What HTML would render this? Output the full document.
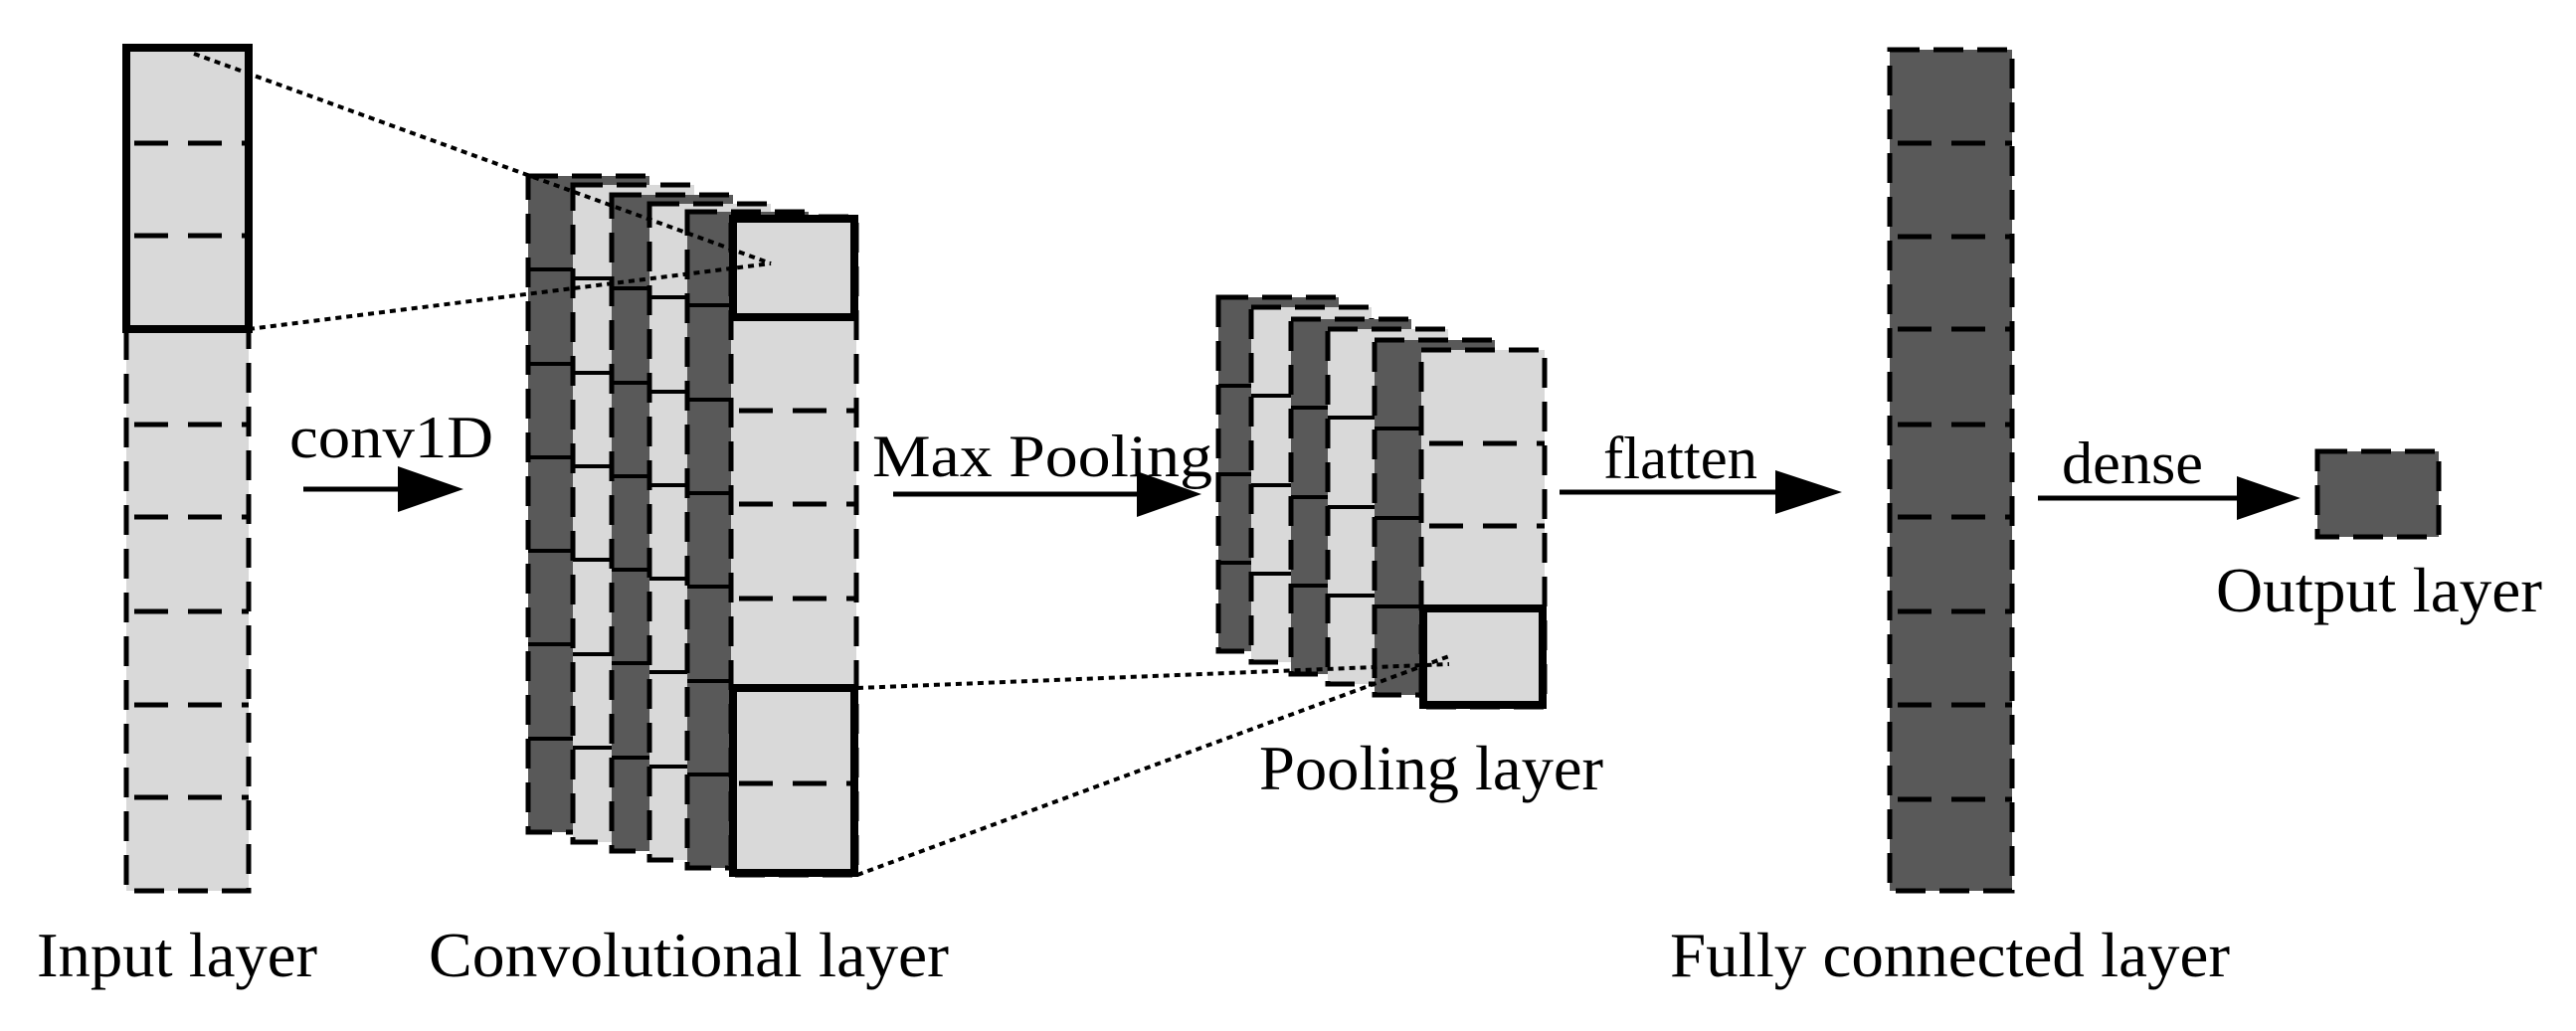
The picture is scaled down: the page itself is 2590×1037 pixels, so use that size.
<!DOCTYPE html>
<html><head><meta charset="utf-8"><style>
html,body{margin:0;padding:0;background:#fff;}
svg{display:block;}
text{font-family:"Liberation Serif",serif;fill:#000;}
</style></head><body>
<svg width="2590" height="1037" viewBox="0 0 2590 1037" xmlns="http://www.w3.org/2000/svg">
<defs>
<marker id="ah" markerWidth="10" markerHeight="10" refX="0" refY="0"/>
</defs>
<g stroke="#000" stroke-width="5" stroke-dasharray="30 14">
<!-- Input layer -->
<rect x="127" y="48" width="123" height="848" fill="#d9d9d9"/>
</g>
<g stroke="#000" stroke-width="5" stroke-dasharray="34 20" stroke-dashoffset="-8">
<line x1="127" y1="144" x2="250" y2="144"/><line x1="127" y1="237" x2="250" y2="237"/>
<line x1="127" y1="427" x2="250" y2="427"/><line x1="127" y1="520" x2="250" y2="520"/>
<line x1="127" y1="615" x2="250" y2="615"/><line x1="127" y1="709" x2="250" y2="709"/>
<line x1="127" y1="802" x2="250" y2="802"/>
</g>
<rect x="127" y="48" width="123" height="283" fill="none" stroke="#000" stroke-width="8"/>

<!-- Conv sheets -->
<g stroke="#000" stroke-width="5">
<rect x="531" y="177" width="122" height="660" fill="#595959" stroke-dasharray="30 14"/>
<g stroke-width="4"><line x1="531" y1="271" x2="653" y2="271"/><line x1="531" y1="366" x2="653" y2="366"/><line x1="531" y1="460" x2="653" y2="460"/><line x1="531" y1="554" x2="653" y2="554"/><line x1="531" y1="648" x2="653" y2="648"/><line x1="531" y1="743" x2="653" y2="743"/></g>
<rect x="576" y="186" width="122" height="661" fill="#d9d9d9" stroke-dasharray="30 14"/>
<g stroke-width="4"><line x1="576" y1="280" x2="698" y2="280"/><line x1="576" y1="375" x2="698" y2="375"/><line x1="576" y1="469" x2="698" y2="469"/><line x1="576" y1="563" x2="698" y2="563"/><line x1="576" y1="658" x2="698" y2="658"/><line x1="576" y1="752" x2="698" y2="752"/></g>
<rect x="615" y="196" width="122" height="660" fill="#595959" stroke-dasharray="30 14"/>
<g stroke-width="4"><line x1="615" y1="290" x2="737" y2="290"/><line x1="615" y1="385" x2="737" y2="385"/><line x1="615" y1="479" x2="737" y2="479"/><line x1="615" y1="573" x2="737" y2="573"/><line x1="615" y1="667" x2="737" y2="667"/><line x1="615" y1="762" x2="737" y2="762"/></g>
<rect x="653" y="205" width="122" height="660" fill="#d9d9d9" stroke-dasharray="30 14"/>
<g stroke-width="4"><line x1="653" y1="299" x2="775" y2="299"/><line x1="653" y1="394" x2="775" y2="394"/><line x1="653" y1="488" x2="775" y2="488"/><line x1="653" y1="582" x2="775" y2="582"/><line x1="653" y1="676" x2="775" y2="676"/><line x1="653" y1="771" x2="775" y2="771"/></g>
<rect x="691" y="213" width="122" height="660" fill="#595959" stroke-dasharray="30 14"/>
<g stroke-width="4"><line x1="691" y1="307" x2="813" y2="307"/><line x1="691" y1="402" x2="813" y2="402"/><line x1="691" y1="496" x2="813" y2="496"/><line x1="691" y1="590" x2="813" y2="590"/><line x1="691" y1="685" x2="813" y2="685"/><line x1="691" y1="779" x2="813" y2="779"/></g>
<rect x="735" y="218" width="126" height="662" fill="#d9d9d9" stroke-dasharray="30 14"/>
</g>
<g stroke="#000" stroke-width="5" stroke-dasharray="34 20" stroke-dashoffset="-8">
<line x1="735" y1="413" x2="861" y2="413"/><line x1="735" y1="507" x2="861" y2="507"/>
<line x1="735" y1="602" x2="861" y2="602"/><line x1="735" y1="788" x2="861" y2="788"/>
</g>
<rect x="737" y="220" width="122" height="99" fill="none" stroke="#000" stroke-width="8"/>
<rect x="737" y="692" width="122" height="186" fill="none" stroke="#000" stroke-width="8"/>

<!-- Pooling sheets -->
<g stroke="#000" stroke-width="5">
<rect x="1225" y="299" width="121" height="356" fill="#595959" stroke-dasharray="30 14"/>
<g stroke-width="4"><line x1="1225" y1="388" x2="1346" y2="388"/><line x1="1225" y1="477" x2="1346" y2="477"/><line x1="1225" y1="566" x2="1346" y2="566"/></g>
<rect x="1258" y="309" width="121" height="357" fill="#d9d9d9" stroke-dasharray="30 14"/>
<g stroke-width="4"><line x1="1258" y1="398" x2="1379" y2="398"/><line x1="1258" y1="488" x2="1379" y2="488"/><line x1="1258" y1="577" x2="1379" y2="577"/></g>
<rect x="1298" y="321" width="121" height="357" fill="#595959" stroke-dasharray="30 14"/>
<g stroke-width="4"><line x1="1298" y1="410" x2="1419" y2="410"/><line x1="1298" y1="500" x2="1419" y2="500"/><line x1="1298" y1="589" x2="1419" y2="589"/></g>
<rect x="1335" y="331" width="121" height="357" fill="#d9d9d9" stroke-dasharray="30 14"/>
<g stroke-width="4"><line x1="1335" y1="420" x2="1456" y2="420"/><line x1="1335" y1="510" x2="1456" y2="510"/><line x1="1335" y1="599" x2="1456" y2="599"/></g>
<rect x="1382" y="342" width="121" height="357" fill="#595959" stroke-dasharray="30 14"/>
<g stroke-width="4"><line x1="1382" y1="431" x2="1503" y2="431"/><line x1="1382" y1="521" x2="1503" y2="521"/><line x1="1382" y1="610" x2="1503" y2="610"/></g>
<rect x="1429" y="352" width="124" height="359" fill="#d9d9d9" stroke-dasharray="30 14"/>
</g>
<g stroke="#000" stroke-width="5" stroke-dasharray="34 20" stroke-dashoffset="-8">
<line x1="1429" y1="446" x2="1553" y2="446"/><line x1="1429" y1="529" x2="1553" y2="529"/>
</g>
<rect x="1431" y="612" width="120" height="97" fill="none" stroke="#000" stroke-width="8"/>

<!-- dotted connectors -->
<g stroke="#000" stroke-width="4" stroke-dasharray="6 5" fill="none">
<line x1="195" y1="54" x2="775" y2="265"/>
<line x1="250" y1="331" x2="775" y2="265"/>
<line x1="862" y1="692" x2="1457" y2="668"/>
<line x1="862" y1="880" x2="1457" y2="660"/>
</g>

<!-- FC layer -->
<rect x="1900" y="50" width="123" height="846" fill="#595959" stroke="#000" stroke-width="5" stroke-dasharray="30 14"/>
<g stroke="#000" stroke-width="5" stroke-dasharray="34 20" stroke-dashoffset="-8">
<line x1="1900" y1="144" x2="2023" y2="144"/><line x1="1900" y1="238" x2="2023" y2="238"/>
<line x1="1900" y1="331" x2="2023" y2="331"/><line x1="1900" y1="427" x2="2023" y2="427"/>
<line x1="1900" y1="520" x2="2023" y2="520"/><line x1="1900" y1="615" x2="2023" y2="615"/>
<line x1="1900" y1="709" x2="2023" y2="709"/><line x1="1900" y1="804" x2="2023" y2="804"/>
</g>

<!-- Output box -->
<rect x="2330" y="454" width="122" height="86" fill="#595959" stroke="#000" stroke-width="5" stroke-dasharray="30 14"/>

<!-- arrows -->
<g stroke="#000" stroke-width="5">
<line x1="305" y1="492" x2="405" y2="492"/>
<line x1="898" y1="497" x2="1148" y2="497"/>
<line x1="1568" y1="495" x2="1790" y2="495"/>
<line x1="2049" y1="501" x2="2254" y2="501"/>
</g>
<g fill="#000">
<polygon points="400,469 466,492 400,515"/>
<polygon points="1143,474 1208,497 1143,520"/>
<polygon points="1785,473 1852,495 1785,517"/>
<polygon points="2249,479 2313,501 2249,523"/>
</g>

<!-- labels -->
<g font-size="64">
<text x="291" y="460" font-size="60" textLength="205" lengthAdjust="spacingAndGlyphs">conv1D</text>
<text x="877" y="479" font-size="60" textLength="342" lengthAdjust="spacingAndGlyphs">Max Pooling</text>
<text x="1612" y="481" font-size="60" textLength="155" lengthAdjust="spacingAndGlyphs">flatten</text>
<text x="2073" y="486" font-size="60" textLength="142" lengthAdjust="spacingAndGlyphs">dense</text>
<text x="2228" y="615" textLength="328" lengthAdjust="spacingAndGlyphs">Output layer</text>
<text x="1266" y="794" textLength="346" lengthAdjust="spacingAndGlyphs">Pooling layer</text>
<text x="37" y="982" textLength="282" lengthAdjust="spacingAndGlyphs">Input layer</text>
<text x="431" y="982" textLength="523" lengthAdjust="spacingAndGlyphs">Convolutional layer</text>
<text x="1679" y="982" textLength="563" lengthAdjust="spacingAndGlyphs">Fully connected layer</text>
</g>
</svg>
</body></html>
